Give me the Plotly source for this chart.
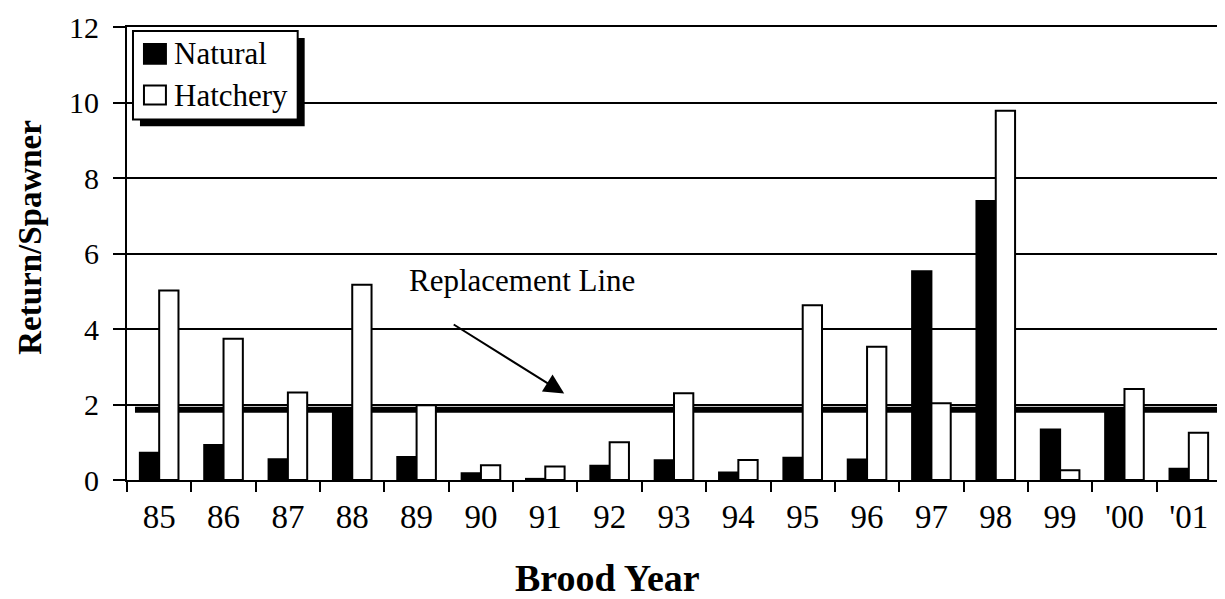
import plotly.graph_objects as go

years = ["85", "86", "87", "88", "89", "90", "91", "92", "93", "94", "95", "96", "97", "98", "99", "'00", "'01"]
natural = [0.72, 0.93, 0.55, 1.78, 0.61, 0.18, 0.03, 0.38, 0.52, 0.2, 0.59, 0.54, 5.53, 7.39, 1.34, 1.9, 0.3]
hatchery = [5.02, 3.74, 2.32, 5.17, 1.98, 0.39, 0.36, 1.0, 2.3, 0.53, 4.63, 3.53, 2.03, 9.78, 0.26, 2.41, 1.25]
replacement = 1.86

FONT = "Times New Roman, Liberation Serif, serif"
OFF = 8  # page body margin
W, H = 1225 - OFF, 599 - OFF
L, R, T, B = 127, 1223, 24, 480  # plot area in screen pixels

def px(x):
    return (x - L) / (R - L)

def py(y):
    return (B - y) / (B - T)

fig = go.Figure()
fig.add_trace(go.Bar(x=years, y=natural, name="Natural",
                     marker=dict(color="black", line=dict(color="black", width=2))))
fig.add_trace(go.Bar(x=years, y=hatchery, name="Hatchery",
                     marker=dict(color="white", line=dict(color="black", width=2))))

shapes = []
shapes.append(dict(type="line", xref="paper", yref="y", x0=px(135), x1=1, y0=replacement, y1=replacement,
                   line=dict(color="black", width=6), layer="between"))
shapes.append(dict(type="rect", xref="paper", yref="paper", x0=px(140), x1=px(305), y0=py(124), y1=py(35),
                   fillcolor="black", line=dict(color="black", width=0), layer="above"))
shapes.append(dict(type="rect", xref="paper", yref="paper", x0=px(133), x1=px(298), y0=py(117), y1=py(28),
                   fillcolor="white", line=dict(color="black", width=2), layer="above"))
shapes.append(dict(type="rect", xref="paper", yref="paper", x0=px(144), x1=px(166), y0=py(61), y1=py(41),
                   fillcolor="black", line=dict(color="black", width=2), layer="above"))
shapes.append(dict(type="rect", xref="paper", yref="paper", x0=px(144), x1=px(166), y0=py(102), y1=py(83),
                   fillcolor="white", line=dict(color="black", width=2), layer="above"))

annotations = [
    dict(text="Natural", xref="paper", yref="paper", x=px(172), y=py(51), xanchor="left", yanchor="middle",
         showarrow=False, font=dict(family=FONT, size=31, color="black")),
    dict(text="Hatchery", xref="paper", yref="paper", x=px(172), y=py(93), xanchor="left", yanchor="middle",
         showarrow=False, font=dict(family=FONT, size=31, color="black")),
    dict(text="Replacement Line", xref="paper", yref="paper", x=px(523), y=py(279), xanchor="center", yanchor="middle",
         showarrow=False, font=dict(family=FONT, size=31, color="black")),
    dict(text="", xref="paper", yref="paper", x=px(565), y=py(393), ax=-112, ay=-70,
         showarrow=True, arrowhead=2, arrowsize=2, arrowwidth=2, arrowcolor="black"),
    # axis titles
    dict(text="<b>Brood Year</b>", xref="paper", yref="paper", x=px(608), y=py(579), xanchor="center",
         yanchor="middle", showarrow=False, font=dict(family=FONT, size=38, color="black")),
    dict(text="<b>Return/Spawner</b>", xref="paper", yref="paper", x=px(29), y=py(236), xanchor="center",
         yanchor="middle", textangle=-90, showarrow=False, font=dict(family=FONT, size=33, color="black")),
]

fig.update_layout(
    width=W, height=H,
    margin=dict(l=L - OFF, r=W - (R - OFF), t=T - OFF, b=H - (B - OFF), pad=0),
    plot_bgcolor="white", paper_bgcolor="white",
    barmode="group", bargap=0.4, bargroupgap=0,
    showlegend=False,
    font=dict(family=FONT, size=30, color="black"),
    shapes=shapes, annotations=annotations,
    xaxis=dict(
        type="category", tickson="boundaries", ticks="outside", ticklen=10, tickwidth=2, tickcolor="black",
        showline=True, linecolor="black", linewidth=2, mirror=True, showgrid=False,
        tickfont=dict(family=FONT, size=33), ticklabelstandoff=6,
    ),
    yaxis=dict(
        range=[0, 12], dtick=2, ticks="outside", ticklen=12, tickwidth=2, tickcolor="black",
        showline=True, linecolor="black", linewidth=2, mirror=True,
        showgrid=True, gridcolor="black", gridwidth=2, zeroline=False,
        tickfont=dict(family=FONT, size=30), ticklabelstandoff=8, ticklabeloverflow="allow",
    ),
)

fig.write_html("out.html")
